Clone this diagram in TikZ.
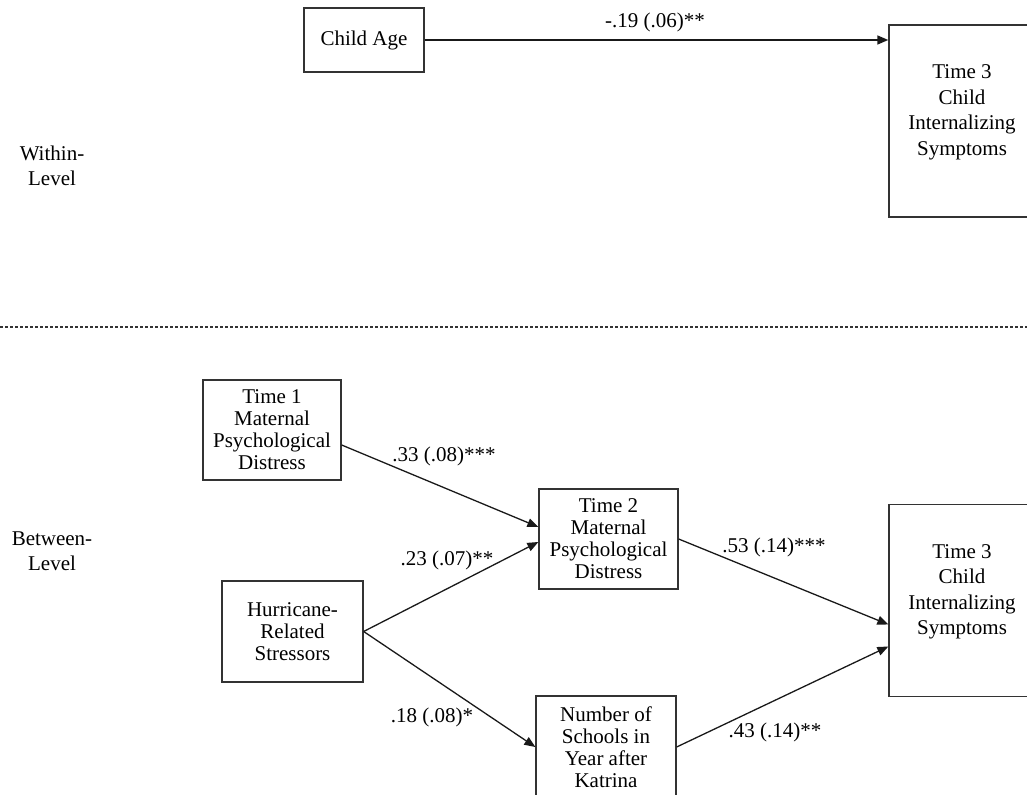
\documentclass[tikz,border=0pt]{standalone}
\usepackage{fontspec}
\setmainfont{Liberation Serif}
\usetikzlibrary{arrows.meta}

\begin{document}
\begin{tikzpicture}[x=0.5pt, y=-0.5pt,
    varbox/.style={draw=black!80, line width=0.65pt, align=center, inner sep=2pt,
        font=\fontsize{10.5}{11}\selectfont},
    outbox/.style={varbox, minimum width=73pt, minimum height=96pt, text depth=11pt,
        font=\fontsize{10.5}{12.8}\selectfont},
    path/.style={line width=0.65pt, black!90, -{Triangle[length=5.5pt, width=4.4pt]}},
    coef/.style={font=\fontsize{10.5}{12}\selectfont, inner sep=0pt},
    level/.style={align=center, font=\fontsize{10.5}{12.5}\selectfont}]
    \useasboundingbox (0, 0) rectangle (1027, 795);
    \clip (0, 0) rectangle (1027, 795);

    % within level
    \node[level] (within) at (52, 166) {Within-\\Level};
    \node[varbox, minimum width=60pt, minimum height=32pt] (age) at (364, 40) {Child Age};
    \node[outbox] (t3w) at (962, 121) {Time 3\\Child\\Internalizing\\Symptoms};
    \draw[path, line width=1pt] (age.east) -- (age.east -| t3w.west);
    \node[coef] (c19) at (655, 22) {-.19 (.06)**};

    % level separator
    \draw[dashed, dash pattern=on 1.6pt off 0.9pt, line width=0.65pt, black!80] (0, 327) -- (1027, 327);

    % between level
    \node[level] (between) at (52, 551) {Between-\\Level};
    \node[varbox, minimum width=69pt, minimum height=50pt] (t1) at (272, 430)
        {Time 1\\Maternal\\Psychological\\Distress};
    \node[varbox, minimum width=70.5pt, minimum height=50.5pt] (hurr) at (292.5, 631.5)
        {Hurricane-\\Related\\Stressors};
    \node[varbox, minimum width=69.5pt, minimum height=50pt] (t2) at (608.5, 539)
        {Time 2\\Maternal\\Psychological\\Distress};
    \node[varbox, minimum width=70pt, minimum height=51pt] (num) at (606, 747)
        {Number of\\Schools in\\Year after\\Katrina};
    \node[outbox] (t3b) at (962, 600.5) {Time 3\\Child\\Internalizing\\Symptoms};

    \draw[path] ([yshift=-7.5pt]t1.east) -- ([yshift=6pt]t2.west);
    \draw[path] (hurr.east) -- ([yshift=-1.5pt]t2.west);
    \draw[path] (hurr.east) -- (num.west);
    \draw[path] (t2.east) -- ([yshift=-12pt]t3b.west);
    \draw[path] (num.east) -- ([yshift=-23pt]t3b.west);

    \node[coef] (c33) at (444, 456) {.33 (.08)***};
    \node[coef] (c23) at (447, 560) {.23 (.07)**};
    \node[coef] (c18) at (432, 717) {.18 (.08)*};
    \node[coef] (c53) at (774, 547) {.53 (.14)***};
    \node[coef] (c43) at (775, 732) {.43 (.14)**};
\end{tikzpicture}
\end{document}
